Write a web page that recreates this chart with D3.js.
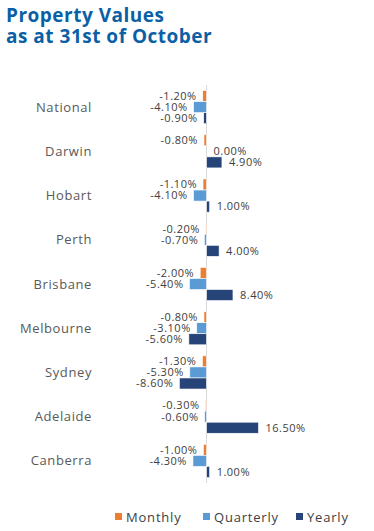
<!DOCTYPE html>
<html>
<head>
<meta charset="utf-8">
<script src="https://cdn.jsdelivr.net/npm/d3@7"></script>
<style>
  body { margin: 0; background: #fff; }
  svg { display: block; font-family: "Open Sans", sans-serif; }
</style>
</head>
<body>
<script>
(function() {
    // chart data
    var cities = ["National", "Darwin", "Hobart", "Perth", "Brisbane", "Melbourne", "Sydney", "Adelaide", "Canberra"];
    var seriesNames = ["Monthly", "Quarterly", "Yearly"];
    var monthly = [-1.2, -0.8, -1.1, -0.2, -2.0, -0.8, -1.3, -0.3, -1.0];
    var quarterly = [-4.1, 0.0, -4.1, -0.7, -5.4, -3.1, -5.3, -0.6, -4.3];
    var yearly = [-0.9, 4.9, 1.0, 4.0, 8.4, -5.6, -8.6, 16.5, 1.0];
    var colors = ["#ed7d31", "#5b9bd5", "#264478"];

    var width = 374, height = 531;

    var svg = d3.select("body").append("svg")
        .attr("width", width)
        .attr("height", height);

    // title
    var title = svg.append("text")
        .attr("fill", "#0b5fa5")
        .style("font-size", "19px")
        .style("font-weight", "700")
        .style("letter-spacing", "0.5px");
    title.append("tspan").attr("x", 6).attr("y", 22).text("Property Values");
    title.append("tspan").attr("x", 6).attr("y", 43).text("as at 31st of October");

    // build rows
    var rows = cities.map(function(c, i) {
        return { city: c, values: [monthly[i], quarterly[i], yearly[i]] };
    });

    var x = d3.scaleLinear().domain([-10, 20]).range([175, 269.5]);
    var y = d3.scaleBand().domain(cities).range([85, 483]).paddingInner(0.25).paddingOuter(0.125);
    var ys = d3.scaleBand().domain(d3.range(3)).range([0, y.bandwidth()]);

    // axis line
    svg.append("line")
        .attr("x1", x(0)).attr("x2", x(0))
        .attr("y1", 85).attr("y2", 483)
        .attr("stroke", "#d9d9d9")
        .attr("stroke-width", 1);

    // category labels
    svg.selectAll(".cat")
        .data(cities)
        .enter()
            .append("text")
            .classed("cat", true)
            .attr("x", 92)
            .attr("y", function(d) { return y(d) + y.bandwidth() / 2; })
            .attr("dy", "0.35em")
            .attr("text-anchor", "end")
            .attr("fill", "#595959")
            .style("font-size", "13px")
            .style("letter-spacing", "0.6px")
            .text(function(d) { return d; });

    var g = svg.selectAll(".row")
        .data(rows)
        .enter()
            .append("g")
            .classed("row", true)
            .attr("transform", function(d) { return "translate(0," + y(d.city) + ")"; });

    var cell = g.selectAll(".cell")
        .data(function(d) { return d.values; })
        .enter()
            .append("g")
            .classed("cell", true);

    cell.append("rect")
        .attr("x", function(d) { return Math.min(x(0), x(d)); })
        .attr("y", function(d, i) { return ys(i); })
        .attr("width", function(d) { return Math.abs(x(d) - x(0)); })
        .attr("height", ys.bandwidth())
        .attr("fill", function(d, i) { return colors[i]; })
        .attr("stroke", "#fff")
        .attr("stroke-width", 0.6);

    cell.append("text")
        .attr("x", function(d) { return d < 0 ? x(d) - 6 : x(d) + 7; })
        .attr("y", function(d, i) { return ys(i) + ys.bandwidth() / 2; })
        .attr("dy", "0.35em")
        .attr("text-anchor", function(d) { return d < 0 ? "end" : "start"; })
        .attr("fill", "#404040")
        .style("font-size", "11px")
        .style("letter-spacing", "0.5px")
        .text(function(d) { return d.toFixed(2) + "%"; });

    // legend
    var legendX = [115, 203, 296];
    var lg = svg.selectAll(".legend")
        .data(seriesNames)
        .enter()
            .append("g")
            .classed("legend", true)
            .attr("transform", function(d, i) { return "translate(" + legendX[i] + ",517)"; });
    lg.append("rect")
        .attr("x", 0).attr("y", -4)
        .attr("width", 7).attr("height", 7)
        .attr("fill", function(d, i) { return colors[i]; });
    lg.append("text")
        .attr("x", 11)
        .attr("dy", "0.35em")
        .attr("fill", "#404040")
        .style("font-size", "13px")
        .style("letter-spacing", "0.8px")
        .text(function(d) { return d; });
})()
</script>
</body>
</html>
